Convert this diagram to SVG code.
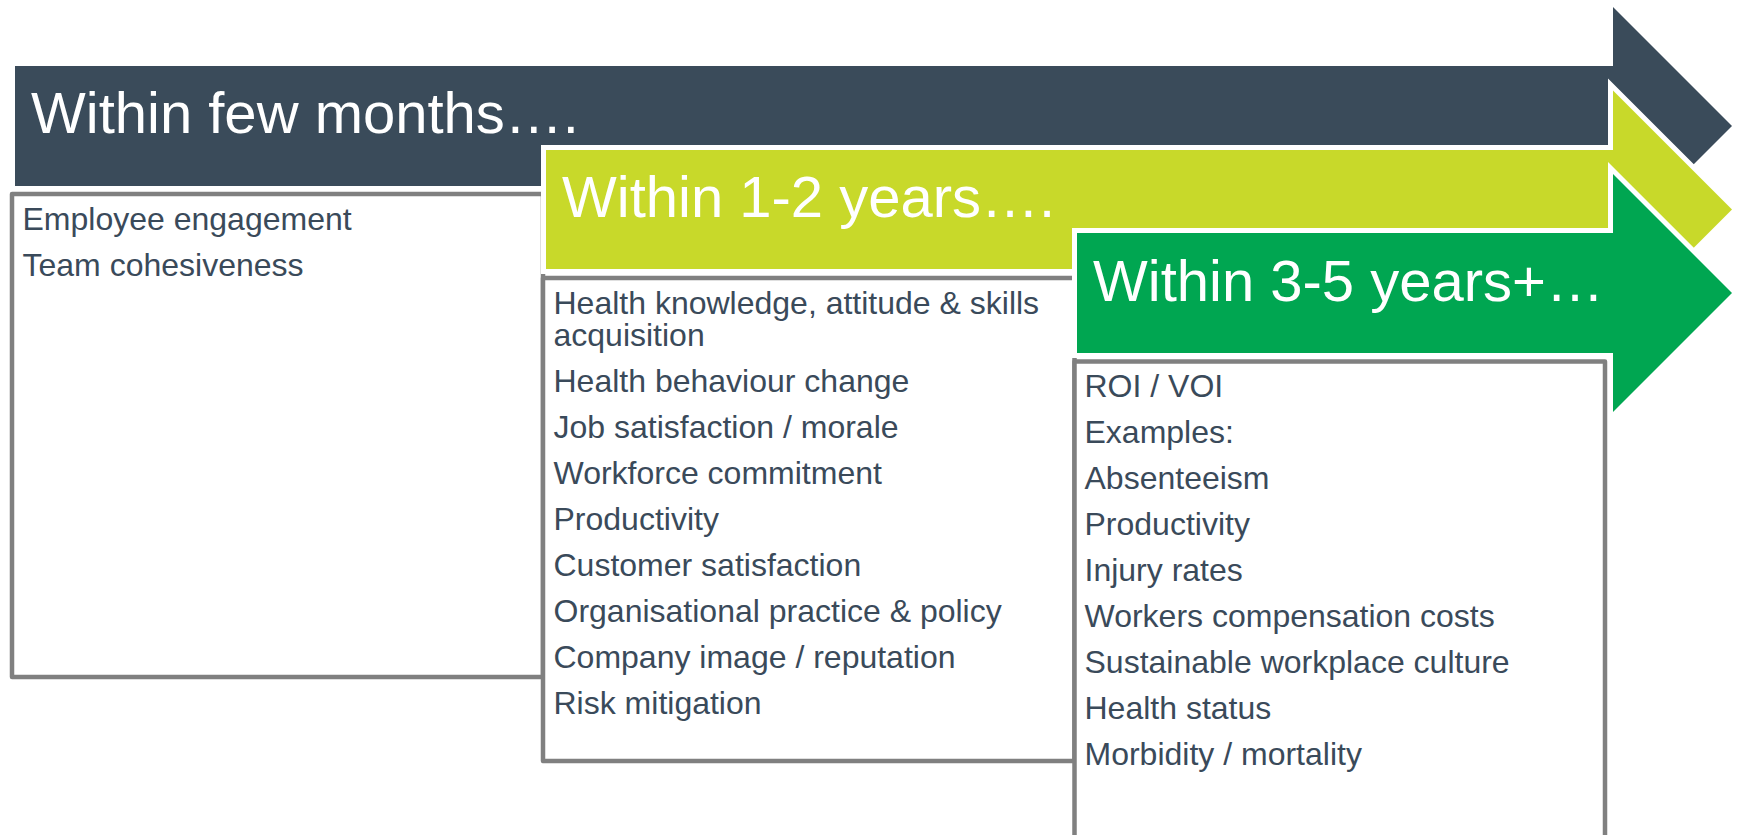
<svg xmlns="http://www.w3.org/2000/svg" width="1741" height="835" viewBox="0 0 1741 835">
  <style>
    .box { fill: #ffffff; stroke: #808080; stroke-width: 4.5; stroke-linejoin: round; }
    .arrow { stroke: #ffffff; stroke-width: 10; stroke-linejoin: miter; paint-order: stroke; }
    .title { font-family: "Liberation Sans", Arial, sans-serif; font-size: 58px; fill: #ffffff; }
    .item { font-family: "Liberation Sans", Arial, sans-serif; font-size: 32px; fill: #3a4a5a; }
  </style>
  <rect width="1741" height="835" fill="#ffffff"/>

  <!-- Stage 1: within few months -->
  <g id="box-months">
    <rect class="box" x="12" y="194" width="531" height="483"/>
    <text class="item" x="22.5" y="229.5">Employee engagement</text>
    <text class="item" x="22.5" y="275.5">Team cohesiveness</text>
  </g>
  <g id="arrow-months">
    <path class="arrow" fill="#3a4b5a" d="M15,66 H1613 V7 L1732,126 L1613,245 V186 H15 Z"/>
    <text class="title" x="31" y="133">Within few months….</text>
  </g>

  <!-- Stage 2: within 1-2 years -->
  <g id="box-years12">
    <rect class="box" x="543" y="278" width="531.5" height="483"/>
    <!-- wrapped item: two lines of one paragraph -->
    <text class="item" x="553.5" y="313.5">Health knowledge, attitude &amp; skills<tspan x="553.5" dy="32">acquisition</tspan></text>
    <text class="item" x="553.5" y="392">Health behaviour change</text>
    <text class="item" x="553.5" y="437.8">Job satisfaction / morale</text>
    <text class="item" x="553.5" y="484">Workforce commitment</text>
    <text class="item" x="553.5" y="530">Productivity</text>
    <text class="item" x="553.5" y="576">Customer satisfaction</text>
    <text class="item" x="553.5" y="622">Organisational practice &amp; policy</text>
    <text class="item" x="553.5" y="668">Company image / reputation</text>
    <text class="item" x="553.5" y="714">Risk mitigation</text>
  </g>
  <g id="arrow-years12">
    <path class="arrow" fill="#c8d92a" d="M546,150 H1613 V90.5 L1732,209.5 L1613,328.5 V269 H546 Z"/>
    <text class="title" x="562" y="217">Within 1-2 years….</text>
  </g>

  <!-- Stage 3: within 3-5 years+ -->
  <g id="box-years35">
    <rect class="box" x="1074.5" y="361.5" width="530.5" height="500"/>
    <text class="item" x="1084.5" y="396.7">ROI / VOI</text>
    <text class="item" x="1084.5" y="442.7">Examples:</text>
    <text class="item" x="1084.5" y="488.7">Absenteeism</text>
    <text class="item" x="1084.5" y="534.7">Productivity</text>
    <text class="item" x="1084.5" y="580.7">Injury rates</text>
    <text class="item" x="1084.5" y="626.7">Workers compensation costs</text>
    <text class="item" x="1084.5" y="672.7">Sustainable workplace culture</text>
    <text class="item" x="1084.5" y="718.7">Health status</text>
    <text class="item" x="1084.5" y="764.7">Morbidity / mortality</text>
  </g>
  <g id="arrow-years35">
    <path class="arrow" fill="#00a651" d="M1077,233 H1613 V174 L1732,293 L1613,412 V353 H1077 Z"/>
    <text class="title" x="1093" y="300.7">Within 3-5 years+…</text>
  </g>

  <!-- no connectors between stages -->
  <g id="connectors"/>
</svg>
